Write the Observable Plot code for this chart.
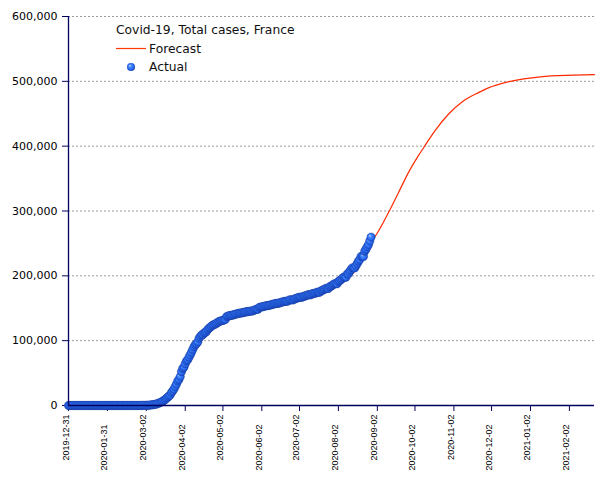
<!DOCTYPE html>
<html>
<head>
<meta charset="utf-8">
<script src="https://cdn.jsdelivr.net/npm/d3@7"></script>
<script src="https://cdn.jsdelivr.net/npm/@observablehq/plot@0.6"></script>
<style>
  html, body { margin: 0; padding: 0; background: #fff; }
</style>
</head>
<body>
<div id="chart"></div>
<script>
// ---- Data ----
const chartTitle = "Covid-19, Total cases, France";
const legendLabels = ["Forecast", "Actual"];

// Actual cumulative cases, one value per day starting at actualStart
const actualStart = "2019-12-31";
const casesJan = [0,0,0,0,0,0,0,0,0,0,0,0,0,0,0,0,0,0,0,0,0,0,0,0,2,3,3,3,4,5,5,6];
const casesFeb = [6,6,6,6,6,6,11,11,11,11,11,11,11,12,12,12,12,12,12,12,12,12,12,14,18,38,57,100];
const casesMar = [130,191,212,285,423,613,949,1126,1412,1784,2281,2876,3661,4499,5423,6633,7730,9134,10995,12612,14459,16018,19856,22302,25233,29155,32964,37575,40174,44550,52128];
const casesApr = [56989,59105,64338,68605,70478,74390,78167,82048,86334,90676,93790,95403,98076,103573,106206,108847,109252,111821,112606,114657,117324,119151,120804,122577,124114,124575,125770,126835,128339,129581];
const casesMay = [130185,130979,131287,131863,132967,137150,137779,138421,138854,139063,139519,140227,140734,141356,141919,142291,142411,142903,143427,143845,144163,144556,144806,145279,145555,145555,146122,147091,147946,148524,148524];
const casesJun = [151325,151753,152091,152444,153055,153634,153977,154188,154591,155136,155561,156287,156813,157220,157372,157716,158174,158641,159452,160093,160377,160750,160750,161348,162936,162936,162936,162936,164260,164801];
const casesJul = [165719,166378,166960,166960,166960,168335,168335,169473,170094,170752,170752,170752,172377,172377,173304,173304,174674,174674,174674,176754,177338,178336,179398,180528,180528,180528,183079,183804,185196,186573,187919];
const casesAug = [187919,187919,191295,192334,194029,195633,197921,197921,197921,202775,203035,206696,209365,212211,212211,212211,215521,219029,222488,225043,229814,229814,229814,238002,241096,244854,248158,253587,259698];

// Forecast curve
const forecastDates = ["2019-12-31","2020-02-20","2020-03-01","2020-03-08","2020-03-15","2020-03-22","2020-03-29","2020-04-05","2020-04-12","2020-04-19","2020-04-26","2020-05-03","2020-05-10","2020-05-20","2020-06-01","2020-06-15","2020-07-01","2020-07-15","2020-07-25","2020-08-01","2020-08-08","2020-08-15","2020-08-22","2020-08-28","2020-09-01","2020-09-11","2020-09-19","2020-09-27","2020-10-04","2020-10-09","2020-10-18","2020-10-29","2020-11-09","2020-11-22","2020-11-29","2020-12-17","2021-01-10","2021-02-06","2021-02-22"];
const forecastCases = [0,0,300,1500,6000,17000,38000,68000,95000,112000,124000,132000,138000,143500,149500,156000,163500,171000,178500,185000,194000,207000,227000,252000,263000,298000,329000,360000,383000,398000,424000,450000,469000,483000,489500,500000,507000,509500,510500];

// Axes
const xDomain = ["2019-12-31", "2021-02-22"];
const xTickDates = ["2019-12-31","2020-01-31","2020-03-02","2020-04-02","2020-05-02","2020-06-02","2020-07-02","2020-08-02","2020-09-02","2020-10-02","2020-11-02","2020-12-02","2021-01-02","2021-02-02"];
const yTicks = [0, 100000, 200000, 300000, 400000, 500000, 600000];

// ---- Build ----
const parse = d3.utcParse("%Y-%m-%d");
const t0 = parse(actualStart);
const actualCases = [].concat(casesJan, casesFeb, casesMar, casesApr, casesMay, casesJun, casesJul, casesAug);
const actual = actualCases.map((v, i) => ({date: d3.utcDay.offset(t0, i), cases: v}));
const forecast = forecastDates.map((d, i) => ({date: parse(d), cases: forecastCases[i]}));
const ticks = xTickDates.map((d, i) => ({date: parse(d), label: d, even: i % 2 === 0}));

const axisColor = "#000060";

const svg = Plot.plot({
  width: 605,
  height: 480,
  marginLeft: 68,
  marginRight: 11,
  marginTop: 16,
  marginBottom: 75,
  style: {fontFamily: "DejaVu Sans", fontSize: "11px", background: "#fff", color: "#000", overflow: "visible"},
  x: {type: "utc", domain: xDomain.map(parse)},
  y: {domain: [0, 600000]},
  marks: [
    Plot.gridY(yTicks.filter(d => d > 0), {stroke: "#999", strokeOpacity: 1, strokeDasharray: "2,2"}),
    Plot.axisY(yTicks, {tickSize: 6, tickPadding: 5, tickFormat: d3.format(","), label: null, stroke: axisColor, fill: "#000", fontSize: 11}),
    Plot.axisX(ticks.map(d => d.date), {tickSize: 6, tickFormat: () => "", label: null, stroke: axisColor}),
    Plot.text(ticks.filter(d => d.even), {x: "date", text: "label", frameAnchor: "bottom", rotate: -90, textAnchor: "end", dy: 9, fontSize: 9, fontFamily: "Liberation Sans", fill: "#000"}),
    Plot.text(ticks.filter(d => !d.even), {x: "date", text: "label", frameAnchor: "bottom", rotate: -90, textAnchor: "end", dy: 19, fontSize: 9, fontFamily: "Liberation Sans", fill: "#000"}),
    Plot.line(forecast, {x: "date", y: "cases", stroke: "#ff2a00", strokeWidth: 1.2, curve: "monotone-x"}),
    Plot.dot(actual, {x: "date", y: "cases", r: 4.2, fill: "url(#ball)", stroke: "#1b3fa8", strokeWidth: 0.4}),
    Plot.ruleX([parse(xDomain[0])], {stroke: axisColor, strokeWidth: 1.3}),
    Plot.ruleY([0], {stroke: axisColor, strokeWidth: 1.3})
  ]
});

const s = d3.select(svg);
const defs = s.insert("defs", ":first-child");
const grad = defs.append("radialGradient").attr("id", "ball").attr("cx", "50%").attr("cy", "50%").attr("r", "55%").attr("fx", "35%").attr("fy", "30%");
grad.append("stop").attr("offset", "0%").attr("stop-color", "#c8e0ff");
grad.append("stop").attr("offset", "30%").attr("stop-color", "#4a8cff");
grad.append("stop").attr("offset", "70%").attr("stop-color", "#2466ee");
grad.append("stop").attr("offset", "100%").attr("stop-color", "#163ea8");

// Legend (inside plot area)
const lg = s.append("g").attr("font-family", "DejaVu Sans").attr("font-size", 12.3).attr("fill", "#111").attr("text-anchor", "start");
lg.append("text").attr("x", 116).attr("y", 34).text(chartTitle);
lg.append("line").attr("x1", 116).attr("x2", 146).attr("y1", 48.5).attr("y2", 48.5).attr("stroke", "#ff3a00").attr("stroke-width", 1.2);
lg.append("text").attr("x", 149).attr("y", 52.5).text(legendLabels[0]);
lg.append("circle").attr("cx", 131).attr("cy", 67).attr("r", 4).attr("fill", "url(#ball)");
lg.append("text").attr("x", 149).attr("y", 71).text(legendLabels[1]);

document.getElementById("chart").appendChild(svg);
</script>
</body>
</html>
